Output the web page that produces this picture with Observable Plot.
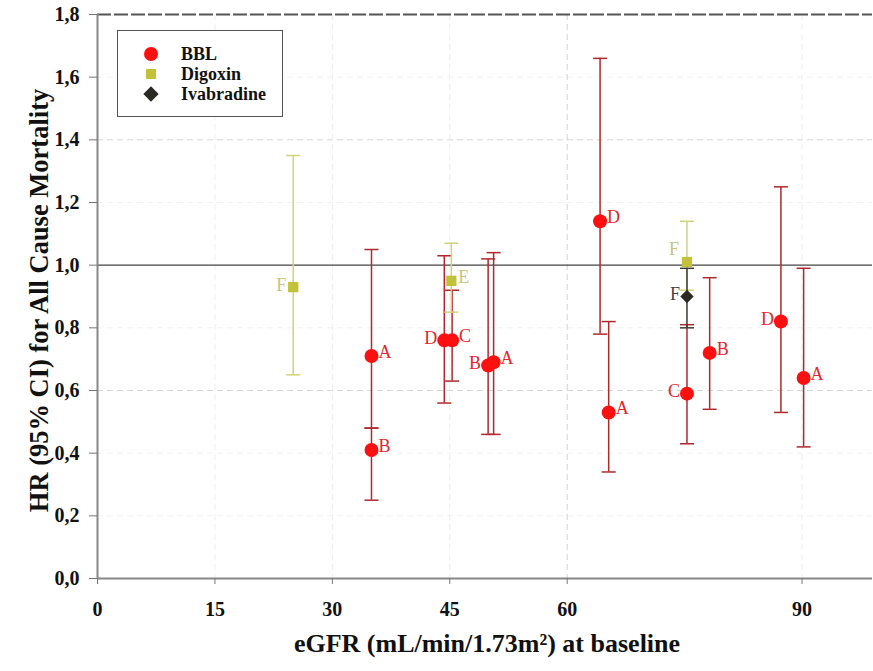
<!DOCTYPE html>
<html>
<head>
<meta charset="utf-8">
<script src="https://cdn.jsdelivr.net/npm/d3@7"></script>
<script src="https://cdn.jsdelivr.net/npm/@observablehq/plot@0.6"></script>
<style>
  body { margin: 0; background: #fff; }
  #wrap { position: relative; width: 873px; height: 671px; overflow: hidden; }
  #chart svg, #chart svg text { font-family: "Liberation Serif", serif; }
  #legend { position: absolute; left: 117px; top: 30px; width: 166px; height: 87px;
    border: 1.5px solid #555; box-sizing: border-box; background: #fff;
    font-family: "Liberation Serif", serif; font-weight: bold; font-size: 18px; color: #111; }
  .lrow { position: absolute; left: 0; height: 20px; display: flex; align-items: center; }
  .lrow svg { position: absolute; left: 24px; }
  .lrow span { position: absolute; left: 63px; white-space: nowrap; line-height: 20px; }
</style>
</head>
<body>
<div id="wrap"><div id="chart"></div><div id="legend"></div></div>
<script>
// ---- data ----
const seriesNames = ["BBL", "Digoxin", "Ivabradine"];

const bblEGFR  = [35, 35, 44.3, 45.3, 49.9, 50.6, 64.2, 65.3, 75.3, 78.2, 87.3, 90.2];
const bblHR    = [0.71, 0.41, 0.76, 0.76, 0.68, 0.69, 1.14, 0.53, 0.59, 0.72, 0.82, 0.64];
const bblLo    = [0.48, 0.25, 0.56, 0.63, 0.46, 0.46, 0.78, 0.34, 0.43, 0.54, 0.53, 0.42];
const bblHi    = [1.05, 0.48, 1.03, 0.92, 1.02, 1.04, 1.66, 0.82, 0.81, 0.96, 1.25, 0.99];
const bblLabel = ["A", "B", "D", "C", "B", "A", "D", "A", "C", "B", "D", "A"];

const digEGFR  = [25, 45.2, 75.3];
const digHR    = [0.93, 0.95, 1.01];
const digLo    = [0.65, 0.85, 0.92];
const digHi    = [1.35, 1.07, 1.14];
const digLabel = ["F", "E", "F"];

const ivaEGFR  = [75.3];
const ivaHR    = [0.90];
const ivaLo    = [0.80];
const ivaHi    = [0.99];
const ivaLabel = ["F"];

const xTicks = [0, 15, 30, 45, 60, 90];
const yTicks = [0, 0.2, 0.4, 0.6, 0.8, 1.0, 1.2, 1.4, 1.6, 1.8];
const xTitle = "eGFR (mL/min/1.73m²) at baseline";
const yTitle = "HR (95% CI) for All Cause Mortality";

// ---- styles (label placement: r = right, l = left, lu = left-up) ----
const bblSide = ["r", "r", "l", "r", "l", "r", "r", "r", "l", "r", "l", "r"];
const digSide = ["l", "r", "lu"];
const ivaSide = ["l"];

const FONT = "Liberation Serif";
const colors = {
  BBL:        {fill: "#ff1010", bar: "#b0282b", text: "#e3262b", symbol: "circle",   r: 7},
  Digoxin:    {fill: "#c2c23a", bar: "#d3d37a", text: "#c6c67a", symbol: "square",   r: 5.8},
  Ivabradine: {fill: "#2b2a22", bar: "#3a3a34", text: "#444",    symbol: "diamond2", r: 6}
};

function build(series, xs, hr, lo, hi, lab, side) {
  return xs.map((x, i) => ({series, x, hr: hr[i], lo: lo[i], hi: hi[i], label: lab[i], side: side[i]}));
}
const bbl = build("BBL", bblEGFR, bblHR, bblLo, bblHi, bblLabel, bblSide);
const dig = build("Digoxin", digEGFR, digHR, digLo, digHi, digLabel, digSide);
const iva = build("Ivabradine", ivaEGFR, ivaHR, ivaLo, ivaHi, ivaLabel, ivaSide);

const capSymbol = {
  draw(ctx, size) { const r = Math.sqrt(size / Math.PI); ctx.moveTo(-r, 0); ctx.lineTo(r, 0); }
};

function seriesMarks(data) {
  const c = colors[data[0].series];
  return [
    Plot.ruleX(data, {x: "x", y1: "lo", y2: "hi", stroke: c.bar, strokeWidth: 1.5}),
    Plot.dot(data, {x: "x", y: "lo", symbol: capSymbol, r: 7, stroke: c.bar, strokeWidth: 1.5, fill: "none"}),
    Plot.dot(data, {x: "x", y: "hi", symbol: capSymbol, r: 7, stroke: c.bar, strokeWidth: 1.5, fill: "none"})
  ];
}
function pointMarks(data) {
  const c = colors[data[0].series];
  const font = {fontFamily: FONT, fontSize: 18, fontWeight: "normal", fill: c.text};
  return [
    Plot.dot(data, {x: "x", y: "hr", symbol: c.symbol, r: c.r, fill: c.fill, stroke: "none"}),
    Plot.text(data, {filter: d => d.side === "r", x: "x", y: "hr", text: "label", textAnchor: "start", dx: 7, dy: -4, ...font}),
    Plot.text(data, {filter: d => d.side === "l", x: "x", y: "hr", text: "label", textAnchor: "end", dx: -7, dy: -2, ...font}),
    Plot.text(data, {filter: d => d.side === "lu", x: "x", y: "hr", text: "label", textAnchor: "end", dx: -8, dy: -13, ...font})
  ];
}

const fmt = d => d.toFixed(1).replace(".", ",");

const chart = Plot.plot({
  width: 873,
  height: 671,
  marginLeft: 97,
  marginRight: 1,
  marginTop: 14,
  marginBottom: 93,
  style: {color: "#111", background: "#fff", overflow: "visible"},
  x: {domain: [0, 99]},
  y: {domain: [0, 1.8]},
  marks: [
    // grid
    Plot.ruleY(yTicks.filter(v => v > 0 && v < 1.8 && v !== 1 && v !== 0.6 && v !== 1.4), {stroke: "#f2f2f2", strokeDasharray: "6,4"}),
    Plot.ruleY([0.6, 1.4], {stroke: "#d6d6d6", strokeDasharray: "6,4"}),
    Plot.ruleX([15, 30, 45, 90], {stroke: "#eeeeee", strokeDasharray: "6,4"}),
    Plot.ruleX([60], {stroke: "#d2d2d2", strokeDasharray: "6,4"}),
    Plot.ruleY([1.8], {stroke: "#555", strokeWidth: 2, strokeDasharray: "14,3"}),
    Plot.ruleY([1], {stroke: "#444", strokeWidth: 1.2}),
    // axes
    Plot.ruleX([0], {stroke: "#888", strokeWidth: 2}),
    Plot.ruleY([0], {stroke: "#888", strokeWidth: 2}),
    Plot.axisY(yTicks, {tickFormat: fmt, tickSize: 8, tickPadding: 10, fontFamily: FONT, fontSize: 20, fontWeight: "bold", stroke: "#777", label: null}),
    Plot.axisX(xTicks, {tickFormat: d => String(d), tickSize: 6, tickPadding: 17, fontFamily: FONT, fontSize: 20, fontWeight: "bold", stroke: "#777", label: null}),
    Plot.text([yTitle], {frameAnchor: "left", textAnchor: "middle", lineAnchor: "middle", rotate: -90, dx: -58, dy: 4, fontFamily: FONT, fontSize: 26.5, fontWeight: "bold", fill: "#111"}),
    Plot.text([xTitle], {frameAnchor: "bottom", textAnchor: "middle", lineAnchor: "middle", dx: 2, dy: 65, fontFamily: FONT, fontSize: 26, fontWeight: "bold", fill: "#111"}),
    // series
    ...seriesMarks(bbl),
    ...seriesMarks(dig),
    ...seriesMarks(iva),
    ...pointMarks(bbl),
    ...pointMarks(dig),
    ...pointMarks(iva)
  ]
});
document.getElementById("chart").appendChild(chart);

// legend (HTML overlay)
const legend = document.getElementById("legend");
const rowTops = [13, 33, 53];
const symPaths = {
  circle: d3.symbol(d3.symbolCircle, Math.PI * 7 * 7)(),
  square: d3.symbol(d3.symbolSquare, 10 * 10)(),
  diamond2: d3.symbol(d3.symbolDiamond2, 150)()
};
seriesNames.forEach((name, i) => {
  const c = colors[name];
  const row = document.createElement("div");
  row.className = "lrow";
  row.style.top = rowTops[i] + "px";
  row.innerHTML = `<svg width="18" height="20" viewBox="-9 -10 18 20"><path d="${symPaths[c.symbol]}" fill="${c.fill}"/></svg><span>${name}</span>`;
  legend.appendChild(row);
});
</script>
</body>
</html>
